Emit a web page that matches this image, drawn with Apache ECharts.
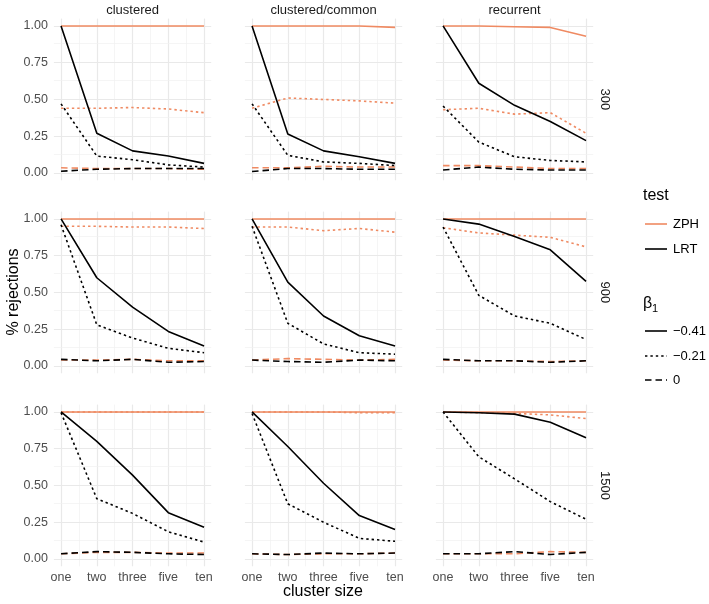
<!DOCTYPE html>
<html>
<head>
<meta charset="utf-8">
<script src="https://cdn.jsdelivr.net/npm/echarts@6/dist/echarts.min.js"></script>
<style>
html,body{margin:0;padding:0;background:#fff;}
#chart{width:709px;height:604px;}
</style>
</head>
<body>
<div id="chart"></div>
<script>
// ---- categories / labels ----
const xNames = ['one', 'two', 'three', 'five', 'ten'];
const colNames = ['clustered', 'clustered/common', 'recurrent'];
const rowNames = ['300', '900', '1500'];
const yTicks = [0, 0.25, 0.5, 0.75, 1];
const testNames = ['ZPH', 'LRT'];
const betaLabels = ['\u22120.41', '\u22120.21', '0'];

// ---- data: n = 300 ----
const zph_041_clustered_300 = [1, 1, 1, 1, 1];
const zph_021_clustered_300 = [0.44, 0.44, 0.445, 0.435, 0.41];
const zph_0_clustered_300   = [0.035, 0.03, 0.03, 0.03, 0.025];
const lrt_041_clustered_300 = [1, 0.27, 0.15, 0.115, 0.065];
const lrt_021_clustered_300 = [0.47, 0.115, 0.09, 0.055, 0.04];
const lrt_0_clustered_300   = [0.012, 0.025, 0.03, 0.03, 0.03];

const zph_041_common_300 = [1, 1, 1, 1, 0.99];
const zph_021_common_300 = [0.44, 0.51, 0.5, 0.49, 0.475];
const zph_0_common_300   = [0.035, 0.035, 0.045, 0.04, 0.04];
const lrt_041_common_300 = [1, 0.265, 0.15, 0.11, 0.065];
const lrt_021_common_300 = [0.47, 0.12, 0.075, 0.065, 0.05];
const lrt_0_common_300   = [0.01, 0.03, 0.03, 0.025, 0.025];

const zph_041_recurrent_300 = [1, 1, 0.995, 0.99, 0.93];
const zph_021_recurrent_300 = [0.43, 0.44, 0.4, 0.41, 0.27];
const zph_0_recurrent_300   = [0.05, 0.05, 0.04, 0.03, 0.03];
const lrt_041_recurrent_300 = [1, 0.61, 0.46, 0.35, 0.22];
const lrt_021_recurrent_300 = [0.455, 0.21, 0.11, 0.085, 0.075];
const lrt_0_recurrent_300   = [0.02, 0.04, 0.025, 0.02, 0.02];

// ---- data: n = 900 ----
const zph_041_clustered_900 = [1, 1, 1, 1, 1];
const zph_021_clustered_900 = [0.95, 0.95, 0.945, 0.945, 0.935];
const zph_0_clustered_900   = [0.04, 0.04, 0.045, 0.035, 0.035];
const lrt_041_clustered_900 = [1, 0.6, 0.4, 0.235, 0.135];
const lrt_021_clustered_900 = [0.96, 0.28, 0.19, 0.12, 0.09];
const lrt_0_clustered_900   = [0.045, 0.035, 0.045, 0.025, 0.03];

const zph_041_common_900 = [1, 1, 1, 1, 1];
const zph_021_common_900 = [0.945, 0.945, 0.92, 0.935, 0.91];
const zph_0_common_900   = [0.04, 0.05, 0.045, 0.04, 0.045];
const lrt_041_common_900 = [1, 0.57, 0.34, 0.205, 0.135];
const lrt_021_common_900 = [0.95, 0.29, 0.15, 0.09, 0.08];
const lrt_0_common_900   = [0.04, 0.03, 0.025, 0.04, 0.035];

const zph_041_recurrent_900 = [1, 1, 1, 1, 1];
const zph_021_recurrent_900 = [0.94, 0.905, 0.89, 0.875, 0.81];
const zph_0_recurrent_900   = [0.04, 0.035, 0.035, 0.03, 0.035];
const lrt_041_recurrent_900 = [1, 0.965, 0.88, 0.79, 0.575];
const lrt_021_recurrent_900 = [0.945, 0.48, 0.34, 0.29, 0.18];
const lrt_0_recurrent_900   = [0.045, 0.035, 0.035, 0.025, 0.035];

// ---- data: n = 1500 ----
const zph_041_clustered_1500 = [1, 1, 1, 1, 1];
const zph_021_clustered_1500 = [1, 1, 1, 1, 1];
const zph_0_clustered_1500   = [0.035, 0.045, 0.045, 0.04, 0.04];
const lrt_041_clustered_1500 = [1, 0.8, 0.57, 0.315, 0.215];
const lrt_021_clustered_1500 = [0.995, 0.41, 0.31, 0.185, 0.115];
const lrt_0_clustered_1500   = [0.035, 0.05, 0.045, 0.035, 0.03];

const zph_041_common_1500 = [1, 1, 1, 1, 1];
const zph_021_common_1500 = [1, 1, 1, 0.995, 0.995];
const zph_0_common_1500   = [0.035, 0.03, 0.035, 0.035, 0.04];
const lrt_041_common_1500 = [1, 0.765, 0.515, 0.295, 0.2];
const lrt_021_common_1500 = [0.99, 0.375, 0.25, 0.14, 0.12];
const lrt_0_common_1500   = [0.035, 0.03, 0.04, 0.035, 0.04];

const zph_041_recurrent_1500 = [1, 1, 1, 1, 1];
const zph_021_recurrent_1500 = [1, 0.995, 0.99, 0.98, 0.955];
const zph_0_recurrent_1500   = [0.035, 0.035, 0.035, 0.05, 0.045];
const lrt_041_recurrent_1500 = [1, 0.995, 0.985, 0.93, 0.825];
const lrt_021_recurrent_1500 = [1, 0.695, 0.545, 0.39, 0.27];
const lrt_0_recurrent_1500   = [0.035, 0.035, 0.05, 0.03, 0.045];

// panels: row-major (row = n, col = scenario); each: [ZPH x3 betas, LRT x3 betas]
const panelData = [
  [[zph_041_clustered_300, zph_021_clustered_300, zph_0_clustered_300], [lrt_041_clustered_300, lrt_021_clustered_300, lrt_0_clustered_300]],
  [[zph_041_common_300, zph_021_common_300, zph_0_common_300], [lrt_041_common_300, lrt_021_common_300, lrt_0_common_300]],
  [[zph_041_recurrent_300, zph_021_recurrent_300, zph_0_recurrent_300], [lrt_041_recurrent_300, lrt_021_recurrent_300, lrt_0_recurrent_300]],
  [[zph_041_clustered_900, zph_021_clustered_900, zph_0_clustered_900], [lrt_041_clustered_900, lrt_021_clustered_900, lrt_0_clustered_900]],
  [[zph_041_common_900, zph_021_common_900, zph_0_common_900], [lrt_041_common_900, lrt_021_common_900, lrt_0_common_900]],
  [[zph_041_recurrent_900, zph_021_recurrent_900, zph_0_recurrent_900], [lrt_041_recurrent_900, lrt_021_recurrent_900, lrt_0_recurrent_900]],
  [[zph_041_clustered_1500, zph_021_clustered_1500, zph_0_clustered_1500], [lrt_041_clustered_1500, lrt_021_clustered_1500, lrt_0_clustered_1500]],
  [[zph_041_common_1500, zph_021_common_1500, zph_0_common_1500], [lrt_041_common_1500, lrt_021_common_1500, lrt_0_common_1500]],
  [[zph_041_recurrent_1500, zph_021_recurrent_1500, zph_0_recurrent_1500], [lrt_041_recurrent_1500, lrt_021_recurrent_1500, lrt_0_recurrent_1500]]
];

// ---- styling / layout ----
const FONT = 'Liberation Sans, Arial, sans-serif';
const testColors = ['#EF8A62', '#000000'];
const dashTypes = ['solid', [2.4, 3], [6.5, 4]];
const colLeft = [53.9, 244.9, 435.9];
const panelW = 157.3;
const rowTop = [18.6, 211.6, 404.6];
const panelH = 161.7;

const grids = [], xAxes = [], yAxes = [], series = [];
const near = (v, step) => Math.abs(v / step - Math.round(v / step)) < 1e-6;

for (let r = 0; r < 3; r++) {
  for (let c = 0; c < 3; c++) {
    const gi = r * 3 + c;
    grids.push({left: colLeft[c], top: rowTop[r], width: panelW, height: panelH, containLabel: false});
    xAxes.push({
      type: 'value', gridIndex: gi, min: 0.8, max: 5.2, interval: 0.2,
      axisLine: {show: false}, axisTick: {show: false}, splitLine: {show: false},
      axisLabel: {
        show: r === 2, margin: 5, color: '#4D4D4D', fontSize: 12.5, fontFamily: FONT,
        showMinLabel: true, showMaxLabel: true,
        formatter: v => near(v, 1) ? (xNames[Math.round(v) - 1] || '') : ''
      }
    });
    yAxes.push({
      type: 'value', gridIndex: gi, min: -0.05, max: 1.05, interval: 0.05,
      axisLine: {show: false}, axisTick: {show: false}, splitLine: {show: false},
      axisLabel: {
        show: c === 0, margin: 6, color: '#4D4D4D', fontSize: 12.5, fontFamily: FONT,
        formatter: v => (near(v, 0.25) && v > -0.01 && v < 1.01) ? v.toFixed(2) : ''
      }
    });
    // gridlines through the axes' own scales (drawn beneath the data)
    const gl = [];
    xNames.forEach((n, i) => gl.push({xAxis: i + 1, lineStyle: {color: '#E9E9E9', width: 1.2, type: 'solid'}}));
    for (let i = 1; i < xNames.length; i++) gl.push({xAxis: i + 0.5, lineStyle: {color: '#F1F1F1', width: 0.7, type: 'solid'}});
    yTicks.forEach(t => gl.push({yAxis: t, lineStyle: {color: '#E9E9E9', width: 1.2, type: 'solid'}}));
    for (let i = 0; i < yTicks.length - 1; i++) gl.push({yAxis: (yTicks[i] + yTicks[i + 1]) / 2, lineStyle: {color: '#F1F1F1', width: 0.7, type: 'solid'}});
    series.push({
      type: 'line', xAxisIndex: gi, yAxisIndex: gi, data: [], z: 1, silent: true,
      markLine: {silent: true, z: 1, symbol: ['none', 'none'], label: {show: false}, animation: false, data: gl}
    });
    // data lines: ZPH first, then LRT on top
    for (let t = 0; t < 2; t++) {
      for (let b = 0; b < 3; b++) {
        const vals = panelData[gi][t][b];
        series.push({
          type: 'line', name: testNames[t] + ' ' + betaLabels[b],
          xAxisIndex: gi, yAxisIndex: gi, z: 10 + t,
          showSymbol: false, symbol: 'none', silent: true,
          data: vals.map((v, i) => [i + 1, v]),
          lineStyle: {color: testColors[t], width: 1.6, type: dashTypes[b]}
        });
      }
    }
  }
}

// facet strips, axis titles, legend
const graphics = [];
colNames.forEach((n, c) => graphics.push({
  type: 'text', x: colLeft[c] + panelW / 2, y: 10,
  style: {text: n, fill: '#1A1A1A', font: '13px ' + FONT, textAlign: 'center', textVerticalAlign: 'middle'}
}));
rowNames.forEach((n, r) => graphics.push({
  type: 'text', x: 605, y: rowTop[r] + panelH / 2, rotation: -Math.PI / 2,
  style: {text: n, fill: '#1A1A1A', font: '13px ' + FONT, textAlign: 'center', textVerticalAlign: 'middle'}
}));
graphics.push({
  type: 'text', x: 323, y: 592,
  style: {text: 'cluster size', fill: '#000', font: '16px ' + FONT, textAlign: 'center', textVerticalAlign: 'middle'}
});
graphics.push({
  type: 'text', x: 14, y: 292, rotation: Math.PI / 2,
  style: {text: '% rejections', fill: '#000', font: '16px ' + FONT, textAlign: 'center', textVerticalAlign: 'middle'}
});
// legend: test
graphics.push({type: 'text', x: 643, y: 196, style: {text: 'test', fill: '#000', font: '16px ' + FONT, textVerticalAlign: 'middle'}});
const testY = [224, 249];
testNames.forEach((n, i) => {
  graphics.push({type: 'line', shape: {x1: 645, y1: testY[i], x2: 667, y2: testY[i]}, style: {stroke: testColors[i], lineWidth: 1.6}});
  graphics.push({type: 'text', x: 673, y: testY[i], style: {text: n, fill: '#000', font: '13px ' + FONT, textVerticalAlign: 'middle'}});
});
// legend: beta1
graphics.push({type: 'text', x: 643, y: 304, style: {text: '\u03B2', fill: '#000', font: '16px ' + FONT, textVerticalAlign: 'middle'}});
graphics.push({type: 'text', x: 652, y: 309, style: {text: '1', fill: '#000', font: '11px ' + FONT, textVerticalAlign: 'middle'}});
const betaY = [331, 356, 380];
betaLabels.forEach((n, i) => {
  graphics.push({type: 'line', shape: {x1: 645, y1: betaY[i], x2: 667, y2: betaY[i]},
    style: {stroke: '#000', lineWidth: 1.6, lineDash: dashTypes[i] === 'solid' ? null : dashTypes[i]}});
  graphics.push({type: 'text', x: 673, y: betaY[i], style: {text: n, fill: '#000', font: '13px ' + FONT, textVerticalAlign: 'middle'}});
});

const chart = echarts.init(document.getElementById('chart'), null, {renderer: 'canvas'});
chart.setOption({
  animation: false,
  backgroundColor: '#ffffff',
  grid: grids,
  xAxis: xAxes,
  yAxis: yAxes,
  series: series,
  graphic: graphics
});
</script>
</body>
</html>
